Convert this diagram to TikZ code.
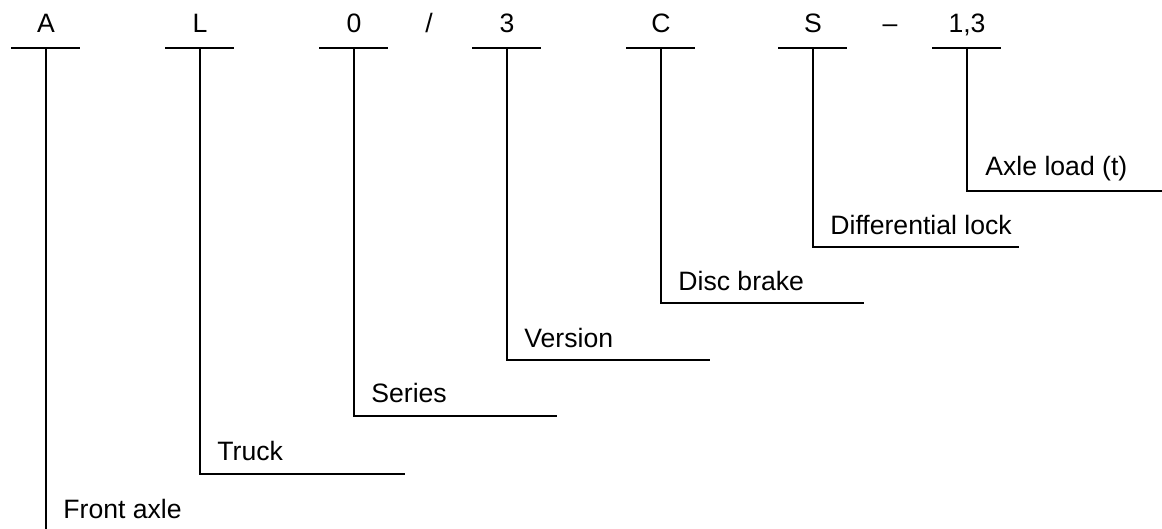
\documentclass[tikz,border=0pt]{standalone}
\usepackage{fontspec}
\setmainfont{Liberation Sans}
\begin{document}
\begin{tikzpicture}[x=0.5pt,y=-0.5pt,
  code/.style={inner sep=0pt,anchor=base,font=\fontsize{13.3}{15}\selectfont},
  lab/.style={inner sep=0pt,anchor=base west,font=\fontsize{13.3}{15}\selectfont},
  bar/.style={line width=1pt},
  stem/.style={line width=1pt}]
\useasboundingbox (0,0) rectangle (1162,529);
% top code letters
\node[code] (cA) at (46,33) {A};
\node[code] (cL) at (200,33) {L};
\node[code] (c0) at (354,33) {0};
\node[code] (cs) at (429,33) {/};
\node[code] (c3) at (507,33) {3};
\node[code] (cC) at (661,33) {C};
\node[code] (cS) at (813,33) {S};
\node[code] (cd) at (890,33) {--};
\node[code] (c13) at (967,33) {1,3};
% top bars
\foreach \n/\x in {A/46,L/200,0/354,3/507,C/661,S/813,13/967}{
  \coordinate (t\n) at (\x,48);
  \draw[bar] (\x-35,48) -- (\x+34,48);
}
% bottom corners
\coordinate (bA) at (46,529);
\coordinate (bL) at (200,473.5);
\coordinate (b0) at (354,416);
\coordinate (b3) at (507,360);
\coordinate (bC) at (661,303.5);
\coordinate (bS) at (813,247.5);
\coordinate (b13) at (967,191);
\coordinate (eL) at (405,473.5);
\coordinate (e0) at (557,416);
\coordinate (e3) at (710,360);
\coordinate (eC) at (864,303.5);
\coordinate (eS) at (1019,247.5);
\coordinate (e13) at (1162,191);
% connectors
\draw[stem] (tA) -- (bA);
\draw[stem] (tL) -- (bL) -- (eL);
\draw[stem] (t0) -- (b0) -- (e0);
\draw[stem] (t3) -- (b3) -- (e3);
\draw[stem] (tC) -- (bC) -- (eC);
\draw[stem] (tS) -- (bS) -- (eS);
\draw[stem] (t13) -- (b13) -- (e13);
% labels
\node[lab] (lA) at (63,518.3) {Front axle};
\node[lab] (lL) at (217,460.7) {Truck};
\node[lab] (l0) at (371,402.5) {Series};
\node[lab] (l3) at (524,347) {Version};
\node[lab] (lC) at (678,290.5) {Disc brake};
\node[lab] (lS) at (830,235) {Differential lock};
\node[lab] (l13) at (985,176) {Axle load (t)};
\end{tikzpicture}
\end{document}
